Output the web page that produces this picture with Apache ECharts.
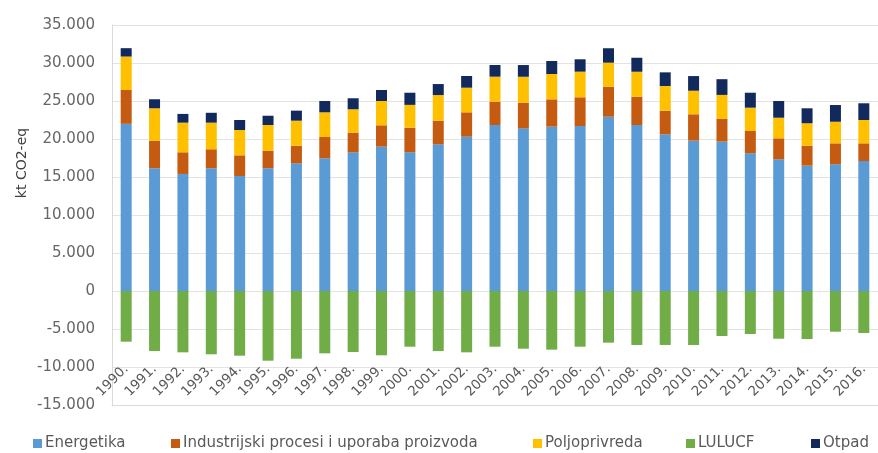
<!DOCTYPE html>
<html>
<head>
<meta charset="utf-8">
<script src="https://cdn.jsdelivr.net/npm/echarts@6/dist/echarts.min.js"></script>
<style>
  html, body { margin: 0; padding: 0; background: #fff; }
  #chart { width: 878px; height: 453px; }
</style>
</head>
<body>
<div id="chart"></div>
<script>
var years = ['1990.', '1991.', '1992.', '1993.', '1994.', '1995.', '1996.', '1997.', '1998.', '1999.',
    '2000.', '2001.', '2002.', '2003.', '2004.', '2005.', '2006.', '2007.', '2008.', '2009.',
    '2010.', '2011.', '2012.', '2013.', '2014.', '2015.', '2016.'];

var energetika = [22000, 16150, 15400, 16150, 15130, 16150, 16800, 17460, 18250, 19000,
    18250, 19300, 20300, 21840, 21400, 21620, 21710, 22930, 21840, 20620,
    19780, 19650, 18120, 17330, 16490, 16670, 17100];
var industrija = [4450, 3630, 2850, 2500, 2720, 2310, 2320, 2800, 2580, 2800,
    3240, 3100, 3210, 3070, 3370, 3600, 3780, 3950, 3720, 3100,
    3470, 2990, 2930, 2760, 2630, 2760, 2330];
var poljoprivreda = [4400, 4260, 3900, 3500, 3330, 3380, 3290, 3250, 3080, 3200,
    3000, 3380, 3240, 3290, 3420, 3330, 3370, 3160, 3290, 3250,
    3100, 3160, 3070, 2710, 2950, 2840, 3070];
var lulucf = [-6670, -7900, -8070, -8330, -8510, -9170, -8910, -8200, -8030, -8460,
    -7330, -7900, -8070, -7330, -7590, -7720, -7330, -6800, -7100, -7100,
    -7100, -5920, -5660, -6280, -6320, -5360, -5530];
var otpad = [1100, 1190, 1150, 1300, 1320, 1220, 1320, 1490, 1450, 1450,
    1600, 1450, 1540, 1540, 1540, 1710, 1630, 1900, 1840, 1800,
    1930, 2070, 1970, 2200, 1970, 2200, 2200];

var seriesNames = ['Energetika', 'Industrijski procesi i uporaba proizvoda', 'Poljoprivreda', 'LULUCF', 'Otpad'];
var seriesColors = ['#5b9bd5', '#c55a11', '#ffc000', '#70ad47', '#12295e'];
var seriesData = [energetika, industrija, poljoprivreda, lulucf, otpad];
var legendLeft = [33, 171, 533, 686, 811];

function fmt(v) {
    var s = String(Math.abs(v)).replace(/\B(?=(\d{3})+(?!\d))/g, '.');
    return (v < 0 ? '-' : '') + s;
}

var chartDom = document.getElementById('chart');
var myChart = echarts.init(chartDom);
var option;

var legends = seriesNames.map(function (name, i) {
    return {
        data: [name],
        left: legendLeft[i],
        top: 436,
        itemWidth: 9,
        itemHeight: 9,
        itemGap: 0,
        icon: 'rect',
        padding: 0,
        textStyle: {
            fontFamily: 'DejaVu Sans',
            fontSize: 15,
            color: '#595959',
            padding: [0, 0, 0, -2]
        }
    };
});

option = {
    animation: false,
    textStyle: { fontFamily: 'DejaVu Sans' },
    legend: legends,
    grid: {
        left: 112,
        right: -7,
        top: 25,
        bottom: 48
    },
    xAxis: {
        type: 'category',
        data: years,
        axisLine: { onZero: false, lineStyle: { color: '#d9d9d9' } },
        axisTick: { show: false },
        axisLabel: {
            interval: 0,
            rotate: 45,
            margin: -38,
            fontSize: 13.5,
            color: '#595959'
        }
    },
    yAxis: {
        type: 'value',
        min: -15000,
        max: 35000,
        interval: 5000,
        axisLine: { show: true, lineStyle: { color: '#d9d9d9' } },
        axisTick: { show: false },
        splitLine: { lineStyle: { color: '#e3e3e3' } },
        axisLabel: {
            margin: 17,
            fontSize: 15,
            color: '#666666',
            formatter: fmt
        }
    },
    graphic: [{
        type: 'text',
        x: 22,
        y: 163,
        rotation: Math.PI / 2,
        style: {
            text: 'kt CO2-eq',
            fontFamily: 'DejaVu Sans',
            fontSize: 14,
            fill: '#404040',
            align: 'center',
            verticalAlign: 'middle'
        }
    }],
    series: seriesNames.map(function (name, i) {
        return {
            name: name,
            type: 'bar',
            stack: 'total',
            barWidth: 11,
            itemStyle: { color: seriesColors[i] },
            data: seriesData[i]
        };
    })
};

option && myChart.setOption(option);
window.addEventListener('resize', function () {
    myChart.resize();
});
</script>
</body>
</html>
